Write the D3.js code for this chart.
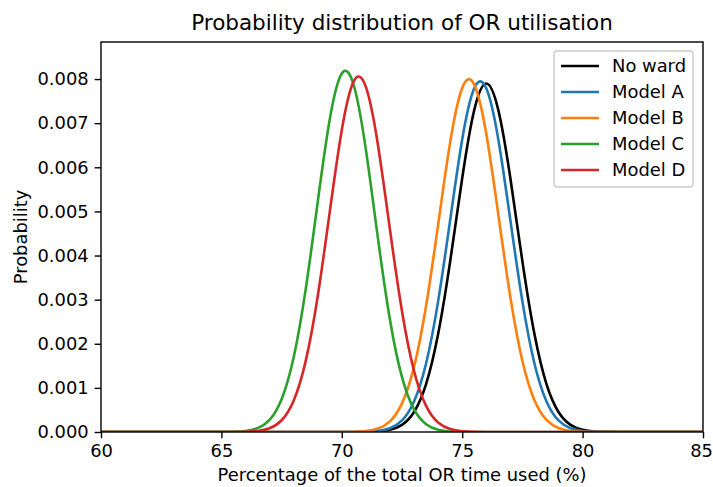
<!DOCTYPE html>
<html lang="en">
<head>
<meta charset="UTF-8">
<title>Probability distribution of OR utilisation</title>
<script src="https://d3js.org/d3.v7.min.js"></script>
<style>
  body { margin: 0; background: #fff; font-family: 'DejaVu Sans', sans-serif; }
  svg text { fill: #000; }
</style>
</head>
<body>
<div id="chart"></div>
<script>
// x grid: 60 .. 85 in steps of 0.5
const xValues = d3.range(60, 85.001, 0.5);

const noWard = [0,0,0,0,0,0,0,0,0,0, 0,0,0,0,0,0,0,0,0,0,
  0,0.000001,0.000003,0.000013,0.000049,0.000162,0.000454,0.001086,0.002219,0.003867,
  0.005751,0.007297,0.007900,0.007297,0.005751,0.003867,0.002219,0.001086,0.000454,0.000162,
  0.000049,0.000013,0.000003,0.000001,0,0,0,0,0,0,0];

const modelA = [0,0,0,0,0,0,0,0,0,0, 0,0,0,0,0,0,0,0,0,0,
  0,0.000001,0.000005,0.000023,0.000085,0.000263,0.000693,0.001553,0.002961,0.004803,
  0.006631,0.007791,0.007791,0.006631,0.004803,0.002961,0.001553,0.000693,0.000263,0.000085,
  0.000023,0.000005,0.000001,0,0,0,0,0,0,0,0];

const modelB = [0,0,0,0,0,0,0,0,0,0, 0,0,0,0,0,0,0,0,0,0,
  0.000001,0.000005,0.000021,0.000077,0.000242,0.000648,0.001475,0.002855,0.004696,0.006564,
  0.007799,0.007875,0.006759,0.004930,0.003058,0.001611,0.000721,0.000275,0.000089,0.000024,
  0.000006,0.000001,0,0,0,0,0,0,0,0,0];

const modelC = [0,0,0,0,0,0,0,0,0,0,
  0.000001,0.000005,0.000023,0.000087,0.000276,0.000744,0.001689,0.003232,0.005214,0.007089,
  0.008127,0.007854,0.006400,0.004396,0.002545,0.001242,0.000511,0.000177,0.000052,0.000013,
  0.000003,0,0,0,0,0,0,0,0,0, 0,0,0,0,0,0,0,0,0,0,0];

const modelD = [0,0,0,0,0,0,0,0,0,0,
  0,0.000001,0.000005,0.000023,0.000084,0.000266,0.000710,0.001607,0.003077,0.004988,
  0.006846,0.007953,0.007822,0.006512,0.004589,0.002738,0.001383,0.000591,0.000214,0.000066,
  0.000017,0.000004,0.000001,0,0,0,0,0,0,0, 0,0,0,0,0,0,0,0,0,0,0];

const seriesNames = ["No ward", "Model A", "Model B", "Model C", "Model D"];
const seriesValues = [noWard, modelA, modelB, modelC, modelD];
const seriesColors = ["#000000", "#1f77b4", "#ff7f0e", "#2ca02c", "#d62728"];

const xTicks = [60, 65, 70, 75, 80, 85];
const yTicks = [0, 0.001, 0.002, 0.003, 0.004, 0.005, 0.006, 0.007, 0.008];

const W = 713, H = 487;
const plot = { left: 101, right: 703, top: 42, bottom: 432 };
const fontSize = 17.9;

const svg = d3.select("#chart").append("svg")
  .attr("width", W)
  .attr("height", H)
  .style("font-family", "'DejaVu Sans', sans-serif");

const x = d3.scaleLinear().domain([60, 85]).range([plot.left, plot.right]);
const y = d3.scaleLinear().domain([0, 0.00884]).range([plot.bottom, plot.top]);

svg.append("defs").append("clipPath").attr("id", "clip")
  .append("rect")
  .attr("x", plot.left).attr("y", plot.top)
  .attr("width", plot.right - plot.left)
  .attr("height", plot.bottom - plot.top);

// curves
const line = d3.line()
  .x((d, i) => x(xValues[i]))
  .y(d => y(d))
  .curve(d3.curveNatural);

svg.append("g").attr("clip-path", "url(#clip)")
  .selectAll("path")
  .data(seriesValues)
  .enter()
  .append("path")
  .attr("d", d => line(d))
  .attr("fill", "none")
  .attr("stroke", (d, i) => seriesColors[i])
  .attr("stroke-width", 2.6)
  .attr("stroke-linejoin", "round");

// axes
const xAxis = d3.axisBottom(x).tickValues(xTicks).tickSize(6.3).tickPadding(6).tickFormat(d3.format("d"));
const yAxis = d3.axisLeft(y).tickValues(yTicks).tickSize(6.3).tickPadding(6).tickFormat(d3.format(".3f"));

const gx = svg.append("g")
  .attr("transform", `translate(0,${plot.bottom})`)
  .call(xAxis);
const gy = svg.append("g")
  .attr("transform", `translate(${plot.left},0)`)
  .call(yAxis);

[gx, gy].forEach(g => {
  g.select(".domain").remove();
  g.selectAll(".tick line").attr("stroke", "#000").attr("stroke-width", 1.4);
  g.selectAll(".tick text").attr("fill", "#000").style("font-size", fontSize + "px")
    .style("font-family", "'DejaVu Sans', sans-serif");
});

// last x label sits on the page edge, nudge it so it is not cut
gx.selectAll(".tick text").filter(d => d === 85).attr("dx", "-2");

// frame
svg.append("rect")
  .attr("x", plot.left).attr("y", plot.top)
  .attr("width", plot.right - plot.left)
  .attr("height", plot.bottom - plot.top)
  .attr("fill", "none")
  .attr("stroke", "#000")
  .attr("stroke-width", 1.4);

// titles
svg.append("text")
  .attr("x", (plot.left + plot.right) / 2)
  .attr("y", 30)
  .attr("text-anchor", "middle")
  .style("font-size", "21.5px")
  .text("Probability distribution of OR utilisation");

svg.append("text")
  .attr("x", (plot.left + plot.right) / 2)
  .attr("y", 481)
  .attr("text-anchor", "middle")
  .style("font-size", fontSize + "px")
  .text("Percentage of the total OR time used (%)");

svg.append("text")
  .attr("transform", `translate(27,${(plot.top + plot.bottom) / 2}) rotate(-90)`)
  .attr("text-anchor", "middle")
  .style("font-size", fontSize + "px")
  .text("Probability");

// legend
const legend = svg.append("g").attr("transform", "translate(554,51)");
legend.append("rect")
  .attr("x", 0).attr("y", 0)
  .attr("width", 139).attr("height", 136)
  .attr("rx", 3)
  .attr("fill", "#fff")
  .attr("fill-opacity", 0.8)
  .attr("stroke", "#cccccc")
  .attr("stroke-width", 1.4);

const items = legend.selectAll(".item")
  .data(seriesNames)
  .enter()
  .append("g")
  .attr("class", "item")
  .attr("transform", (d, i) => `translate(0,${15 + i * 26})`);

items.append("line")
  .attr("x1", 7).attr("x2", 45)
  .attr("y1", 0).attr("y2", 0)
  .attr("stroke", (d, i) => seriesColors[i])
  .attr("stroke-width", 2.6);

items.append("text")
  .attr("x", 58)
  .attr("y", 0)
  .attr("dy", "0.35em")
  .style("font-size", fontSize + "px")
  .text(d => d);
</script>
</body>
</html>
